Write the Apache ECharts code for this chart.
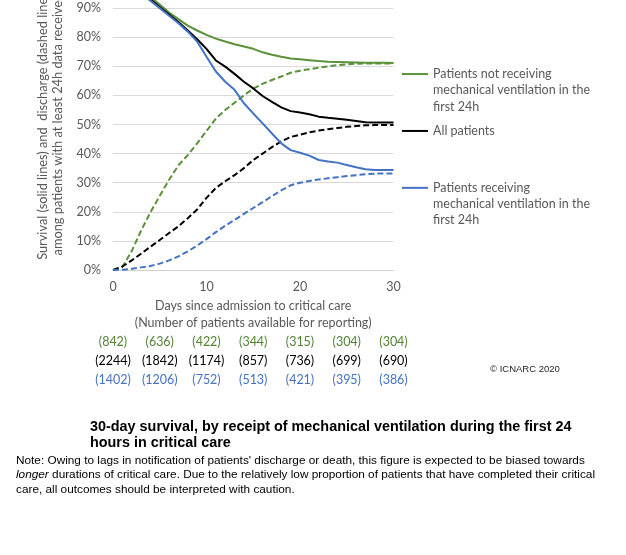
<!DOCTYPE html>
<html>
<head>
<meta charset="utf-8">
<title>30-day survival</title>
<script src="https://cdn.jsdelivr.net/npm/echarts@6.0.0/dist/echarts.min.js"></script>
<style>
  html, body { margin: 0; padding: 0; background: #fff; }
  #chart { width: 626px; height: 555px; }
</style>
</head>
<body>
<div id="chart"></div>
<script>
// days since admission to critical care
const days = [0, 1, 2, 3, 4, 5, 6, 7, 8, 9, 10, 11, 12, 13, 14, 15, 16, 17, 18, 19, 20, 21, 22, 23, 24, 25, 26, 27, 28, 29, 30];

// survival (solid lines), %
const notVentSurvival = [100, 99.3, 98, 96.2, 93.8, 91.2, 88.5, 86.2, 84, 82.3, 80.8, 79.5, 78.5, 77.6, 76.8, 76, 74.8, 74, 73.3, 72.7, 72.4, 72.1, 71.8, 71.6, 71.5, 71.4, 71.3, 71.2, 71.2, 71.2, 71.1];
const allSurvival = [100, 99, 97.5, 95.5, 93, 90.4, 87.8, 85.2, 82.3, 79.3, 76, 72, 69.9, 67.4, 64.7, 62.4, 59.8, 57.8, 55.9, 54.6, 54.1, 53.5, 52.7, 52.3, 52, 51.6, 51.2, 50.8, 50.7, 50.7, 50.7];
const ventSurvival = [100, 99, 97.2, 95, 92.5, 90, 87.4, 84.8, 81.9, 78.5, 73.3, 68.2, 64.7, 61.9, 57.3, 53.8, 50.4, 46.9, 43.5, 41.2, 40.3, 39.3, 37.8, 37.3, 36.9, 36.1, 35.3, 34.6, 34.4, 34.4, 34.4];

// discharge (dashed lines), %
const notVentDischarge = [0, 1, 6.5, 13.5, 19.8, 25.5, 31, 36, 39.5, 43.5, 47.8, 52, 55, 57.5, 60, 62.3, 64, 65.3, 66.5, 67.8, 68.5, 69, 69.5, 70, 70.4, 70.7, 70.9, 71, 71, 71, 71];
const allDischarge = [0, 1.2, 3.3, 5.6, 8, 10.3, 12.7, 15, 17.8, 20.8, 24.8, 28.2, 30.5, 32.6, 35, 37.8, 40, 42.2, 44.2, 45.7, 46.5, 47.3, 47.9, 48.4, 48.8, 49.2, 49.5, 49.7, 49.8, 49.8, 49.8];
const ventDischarge = [0, 0.1, 0.4, 0.9, 1.4, 2.2, 3.3, 4.7, 6.4, 8.4, 10.6, 13, 15.2, 17.2, 19.3, 21.3, 23.3, 25.4, 27.4, 29.1, 30, 30.6, 31.1, 31.5, 31.9, 32.3, 32.6, 32.9, 33.1, 33.2, 33.2];

// number of patients available for reporting
const countDays = [0, 5, 10, 15, 20, 25, 30];
const notVentCounts = [842, 636, 422, 344, 315, 304, 304];
const allCounts = [2244, 1842, 1174, 857, 736, 699, 690];
const ventCounts = [1402, 1206, 752, 513, 421, 395, 386];

const groupNames = [
  'Patients not receiving mechanical ventilation in the first 24h',
  'All patients',
  'Patients receiving mechanical ventilation in the first 24h'
];
const legendLabels = [
  'Patients not receiving\nmechanical ventilation in the\nfirst 24h',
  'All patients',
  'Patients receiving\nmechanical ventilation in the\nfirst 24h'
];
const yTicks = [0, 10, 20, 30, 40, 50, 60, 70, 80, 90, 100];

const green = '#548235';
const greenLine = '#5A9139';
const black = '#000000';
const blue = '#4472C4';
const grey = '#595959';
const font = 'Lato';
const fontSize = 12.5;
const legendLineHeight = 16.3;

const chart = echarts.init(document.getElementById('chart'));

function toPoints(values) {
  return days.map((d, i) => [d, values[i]]);
}

function lineSeries(name, values, color, dashed) {
  return {
    name: name,
    type: 'line',
    data: toPoints(values),
    symbol: 'none',
    showSymbol: false,
    z: dashed ? 2 : 3,
    lineStyle: { color: color, width: 2, type: dashed ? [6, 3] : 'solid' },
    itemStyle: { color: color }
  };
}

function countLabel(value) {
  const i = countDays.indexOf(value);
  if (i < 0) return '';
  return '{g|(' + notVentCounts[i] + ')}\n{k|(' + allCounts[i] + ')}\n{b|(' + ventCounts[i] + ')}';
}

// legend text is centred on its icon, so pad with empty lines above
// to keep the icon level with the first line
function legendText(name) {
  const label = legendLabels[groupNames.indexOf(name)];
  const extra = label.split('\n').length - 1;
  return ' \n'.repeat(extra) + label;
}

const option = {
  backgroundColor: '#fff',
  animation: false,
  textStyle: { fontFamily: font },
  title: [
    {
      // chart title under the plot
      text: '30-day survival, by receipt of mechanical ventilation during the first 24\nhours in critical care',
      left: 90,
      top: 418.4,
      padding: 0,
      textStyle: {
        fontFamily: 'Liberation Sans',
        fontWeight: 'bold',
        fontSize: 14.4,
        lineHeight: 16.6,
        color: '#000'
      }
    },
    {
      // note
      text: 'Note: Owing to lags in notification of patients\' discharge or death, this figure is expected to be biased towards\n' +
            '{i|longer} durations of critical care. Due to the relatively low proportion of patients that have completed their critical\n' +
            'care, all outcomes should be interpreted with caution.',
      left: 16,
      top: 453.5,
      padding: 0,
      textStyle: {
        fontFamily: 'Liberation Sans',
        fontWeight: 'normal',
        fontSize: 11.8,
        lineHeight: 14.4,
        color: '#000',
        rich: {
          i: { fontFamily: 'Liberation Sans', fontStyle: 'italic', fontSize: 11.8, lineHeight: 14.4, color: '#000' }
        }
      }
    },
    {
      text: '© ICNARC 2020',
      left: 490,
      top: 364,
      padding: 0,
      textStyle: { fontFamily: 'Liberation Sans', fontWeight: 'normal', fontSize: 9.5, color: '#262626' }
    }
  ],
  legend: {
    orient: 'vertical',
    left: 402,
    top: 33.3,
    padding: 0,
    icon: 'rect',
    itemWidth: 26,
    itemHeight: 2,
    itemGap: 8,
    data: groupNames,
    formatter: legendText,
    textStyle: { fontFamily: font, fontSize: fontSize, lineHeight: legendLineHeight, color: grey }
  },
  grid: {
    left: 113,
    right: 232.5,
    top: -21,
    bottom: 285,
    outerBoundsMode: 'none'
  },
  xAxis: [
    {
      type: 'value',
      min: 0,
      max: 30,
      interval: 10,
      name: 'Days since admission to critical care\n(Number of patients available for reporting)',
      nameLocation: 'middle',
      nameGap: 25,
      nameTextStyle: { fontFamily: font, fontSize: fontSize, lineHeight: 16.7, color: grey },
      axisLine: { lineStyle: { color: '#d0d0d0', width: 1 } },
      axisTick: { show: false },
      splitLine: { show: false },
      axisLabel: { fontFamily: font, fontSize: fontSize, color: grey, margin: 10 }
    },
    {
      // patient counts under the axis
      type: 'value',
      min: 0,
      max: 30,
      interval: 5,
      position: 'bottom',
      axisLine: { show: false },
      axisTick: { show: false },
      splitLine: { show: false },
      axisLabel: {
        margin: 63,
        formatter: countLabel,
        rich: {
          g: { fontFamily: font, fontSize: fontSize, lineHeight: 18.7, color: green },
          k: { fontFamily: font, fontSize: fontSize, lineHeight: 18.7, color: black },
          b: { fontFamily: font, fontSize: fontSize, lineHeight: 18.7, color: blue }
        }
      }
    }
  ],
  yAxis: {
    type: 'value',
    min: yTicks[0],
    max: yTicks[yTicks.length - 1],
    interval: yTicks[1] - yTicks[0],
    name: 'Survival (solid lines) and  discharge (dashed lines)\namong patients with at least 24h data received',
    nameLocation: 'middle',
    nameGap: 48,
    nameTextStyle: { fontFamily: font, fontSize: 12.8, lineHeight: 15, color: grey },
    axisLine: { show: false },
    axisTick: { show: false },
    splitLine: { lineStyle: { color: '#d9d9d9', width: 1 } },
    axisLabel: { fontFamily: font, fontSize: fontSize, color: grey, margin: 12, formatter: '{value}%' }
  },
  series: [
    lineSeries(groupNames[0], notVentSurvival, greenLine, false),
    lineSeries(groupNames[1], allSurvival, black, false),
    lineSeries(groupNames[2], ventSurvival, blue, false),
    lineSeries(groupNames[0], notVentDischarge, greenLine, true),
    lineSeries(groupNames[1], allDischarge, black, true),
    lineSeries(groupNames[2], ventDischarge, blue, true)
  ]
};

chart.setOption(option);
window.addEventListener('resize', function () {
  chart.resize();
});
</script>
</body>
</html>
